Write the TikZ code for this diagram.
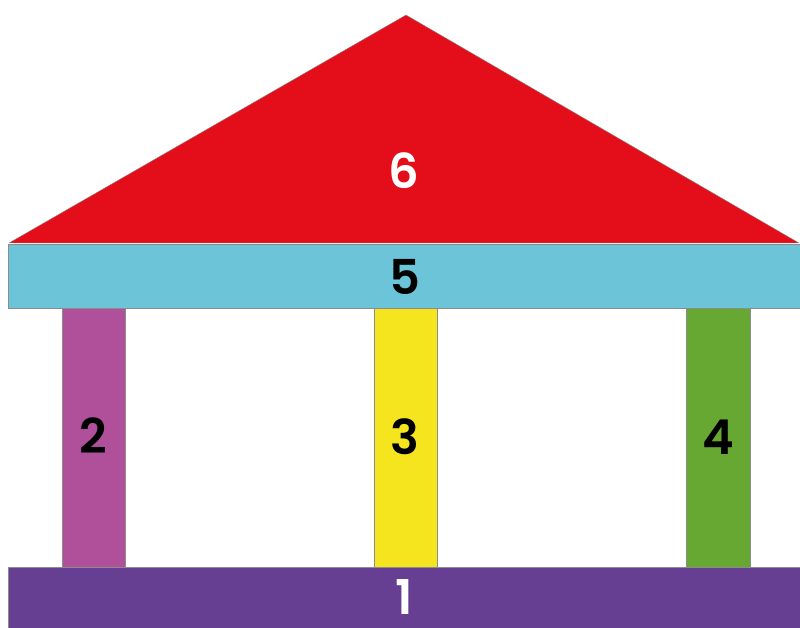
\documentclass[tikz,border=0pt]{standalone}
\usepackage{fontspec}
\setmainfont{Poppins}[BoldFont={* SemiBold}]
\definecolor{roofred}{HTML}{E30E1A}
\definecolor{beamcyan}{HTML}{6BC4D8}
\definecolor{colpink}{HTML}{B0509A}
\definecolor{colyellow}{HTML}{F5E51F}
\definecolor{colgreen}{HTML}{66A832}
\definecolor{basepurple}{HTML}{673F92}
\begin{document}
\begin{tikzpicture}[x=1pt,y=-1pt,
  part/.style={draw=black!45,line width=0.4pt},
  num/.style={font=\bfseries\fontsize{48}{48}\selectfont,inner sep=0pt}]
\useasboundingbox[fill=white] (0,0) rectangle (800,628);
% roof
\filldraw[part,fill=roofred] (9,243) -- (406,15) -- (799,243) -- cycle;
\node[num,text=white] (n6) at (404,171) {6};
% beam
\filldraw[part,fill=beamcyan] (8,244) rectangle (800,308);
\node[num] (n5) at (405,277) {5};
% columns
\filldraw[part,fill=colpink] (62,308) rectangle (125,567);
\node[num] (n2) at (93,436) {2};
\filldraw[part,fill=colyellow] (374,308) rectangle (437,567);
\node[num] (n3) at (405,437) {3};
\filldraw[part,fill=colgreen] (686,308) rectangle (750,567);
\node[num] (n4) at (718,437) {4};
% base
\filldraw[part,fill=basepurple] (8,567) rectangle (800,628);
\node[num,text=white] (n1) at (404,597) {1};
\end{tikzpicture}
\end{document}
